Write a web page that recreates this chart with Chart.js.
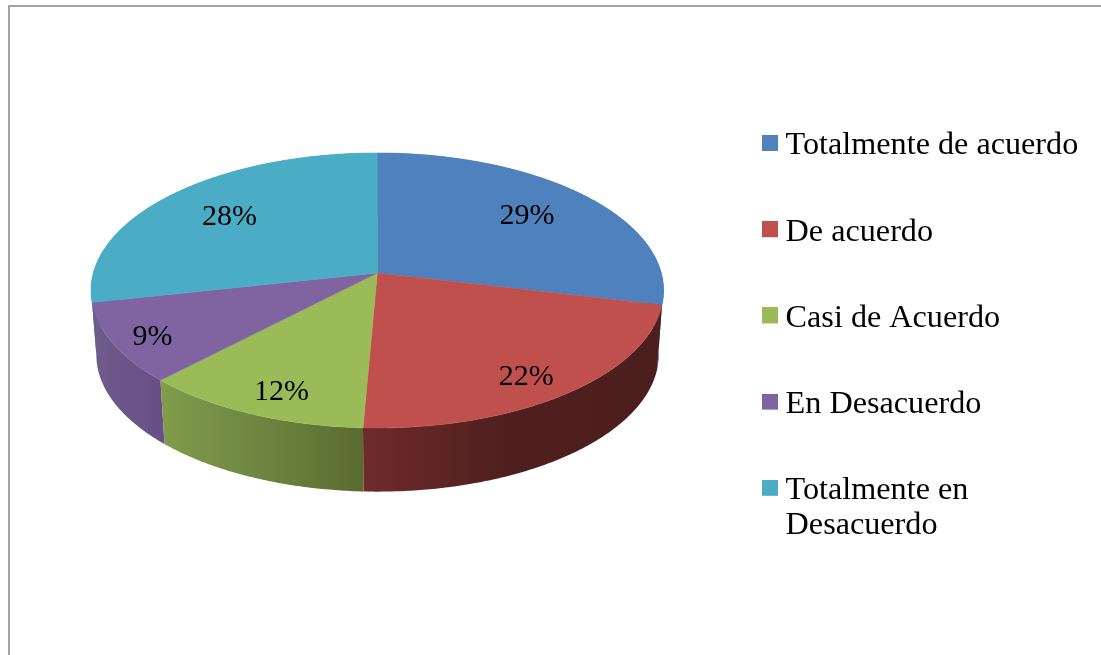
<!DOCTYPE html>
<html lang="es">
  <head>
    <meta charset="UTF-8" />
    <title>Grado de acuerdo</title>
    <script src="https://cdn.jsdelivr.net/npm/chart.js"></script>
    <style>
      html, body { margin: 0; padding: 0; background: #fff; overflow: hidden; }
      #wrap { position: relative; width: 1101px; height: 655px; }
      #edgeTop { position: absolute; left: 8px; top: 5px; right: 0; height: 2px; background: #a3a3a3; }
      #edgeLeft { position: absolute; left: 8px; top: 5px; bottom: 0; width: 2px; background: #a3a3a3; }
      canvas { position: absolute; left: 0; top: 0; }
    </style>
  </head>
  <body>
    <div id="wrap">
      <div id="edgeTop"></div>
      <div id="edgeLeft"></div>
      <canvas id="pieChart" width="1101" height="655"></canvas>
    </div>

    <script>
      var categories = [
        "Totalmente de acuerdo",
        "De acuerdo",
        "Casi de Acuerdo",
        "En Desacuerdo",
        ["Totalmente en", "Desacuerdo"],
      ];
      var shares = [28.7, 22.0, 11.5, 9.4, 28.4];

      var topColors = ["#4f81bd", "#c0504d", "#9bbb59", "#8064a2", "#4bacc6"];
      var sideColors = [
        ["#3a5f8c", "#3a5f8c"],
        ["#6e2b2a", "#4e1f1e", "#4c1e1d"],
        ["#809b4a", "#6d8540", "#596b2f"],
        ["#6f5a8c", "#6b5487", "#664f85"],
        ["#38809a", "#38809a"],
      ];
      var labelReach = [0.71, 0.85, 0.85, 0.87, 0.7];
      var labelTurn = [0, 0.05, -0.04, -0.03, -0.01];

      var font = "Liberation Serif";

      // perspective of the disc, fitted by eye to the picture
      var lens = { cx: 377.3, cy: 273, tilt: 0.127, rx: 284, ry: 135.3 };
      var floor = { cx: 377.5, cy: 337, rx: 279, ry: 135 };

      function project(d, angle, reach) {
        var u = Math.cos(angle) * reach;
        var v = Math.sin(angle) * reach;
        var w = 1 - lens.tilt * v;
        return { x: d.cx + (d.rx * u) / w, y: d.cy + (d.ry * v) / w };
      }

      function arcPoints(d, start, end) {
        var steps = Math.max(2, Math.ceil((end - start) / 0.01));
        var pts = [];
        for (var i = 0; i <= steps; i++) {
          pts.push(project(d, start + ((end - start) * i) / steps, 1));
        }
        return pts;
      }

      function trace(ctx, pts) {
        ctx.beginPath();
        pts.forEach(function (p, i) {
          if (i === 0) ctx.moveTo(p.x, p.y);
          else ctx.lineTo(p.x, p.y);
        });
        ctx.closePath();
      }

      // cuadrito de la leyenda, 3px por encima del centro del texto
      function legendSquare(color) {
        var c = document.createElement("canvas");
        c.width = 16;
        c.height = 22;
        var g = c.getContext("2d");
        g.fillStyle = color;
        g.fillRect(0, 0, 16, 16);
        return c;
      }

      var disc3d = {
        id: "disc3d",
        afterLayout: function (chart) {
          // leyenda en su sitio
          chart.legend.left = 715.5;
          chart.legend.right = 1101;
          chart.legend.top = 75.9;
          chart.legend.bottom = 655;
        },
        beforeDatasetDraw: function (chart, args) {
          var ctx = chart.ctx;
          var arcs = args.meta.data;
          ctx.save();

          // paredes laterales, de atras hacia adelante
          var backToFront = arcs.map(function (arc, i) { return i; }).sort(function (a, b) {
            return Math.sin((arcs[a].startAngle + arcs[a].endAngle) / 2) -
              Math.sin((arcs[b].startAngle + arcs[b].endAngle) / 2);
          });
          backToFront.forEach(function (i) {
            var arc = arcs[i];
            var low = arcPoints(floor, arc.startAngle, arc.endAngle);
            var high = arcPoints(lens, arc.startAngle, arc.endAngle);
            var xs = low.map(function (p) { return p.x; });
            var grad = ctx.createLinearGradient(Math.min.apply(null, xs), 0, Math.max.apply(null, xs), 0);
            sideColors[i].forEach(function (c, k) {
              grad.addColorStop(k / (sideColors[i].length - 1), c);
            });
            trace(ctx, high.concat(low.reverse()));
            ctx.fillStyle = grad;
            ctx.fill();
          });

          // cara superior
          arcs.forEach(function (arc, i) {
            var pts = arcPoints(lens, arc.startAngle, arc.endAngle);
            pts.unshift({ x: lens.cx, y: lens.cy });
            trace(ctx, pts);
            ctx.fillStyle = topColors[i];
            ctx.strokeStyle = topColors[i];
            ctx.lineWidth = 0.5;
            ctx.fill();
            ctx.stroke();
          });

          // etiquetas
          var total = shares.reduce(function (a, b) { return a + b; }, 0);
          ctx.fillStyle = "#000";
          ctx.font = "30px '" + font + "'";
          ctx.textAlign = "center";
          ctx.textBaseline = "middle";
          arcs.forEach(function (arc, i) {
            var mid = (arc.startAngle + arc.endAngle) / 2 + labelTurn[i];
            var p = project(lens, mid, labelReach[i]);
            ctx.fillText(Math.round((shares[i] / total) * 100) + "%", p.x, p.y);
          });

          ctx.restore();
          return false;
        },
      };

      var pieLegendItems = Chart.controllers.doughnut.overrides.plugins.legend.labels.generateLabels;

      new Chart(document.getElementById("pieChart"), {
        type: "pie",
        data: {
          labels: categories,
          datasets: [
            {
              data: shares,
              backgroundColor: topColors,
              borderWidth: 0,
            },
          ],
        },
        options: {
          responsive: false,
          animation: false,
          plugins: {
            tooltip: { enabled: false },
            legend: {
              position: "right",
              align: "start",
              maxWidth: 500,
              labels: {
                usePointStyle: true,
                boxWidth: 0.01,
                boxHeight: 16,
                padding: 54,
                color: "#000",
                font: { family: font, size: 32.2, lineHeight: 1.087 },
                generateLabels: function (chart) {
                  return pieLegendItems(chart).map(function (item, i) {
                    item.pointStyle = legendSquare(topColors[i]);
                    return item;
                  });
                },
              },
            },
          },
        },
        plugins: [disc3d],
      });
    </script>
  </body>
</html>
